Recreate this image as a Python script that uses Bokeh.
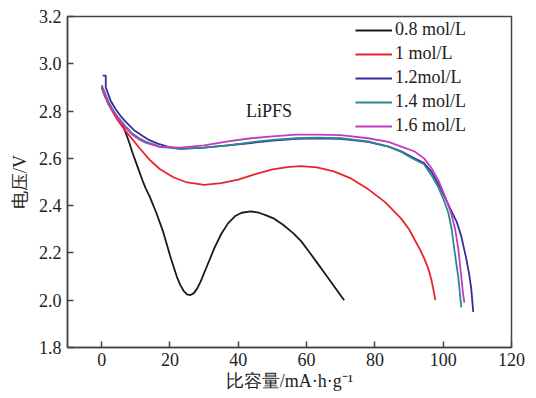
from bokeh.plotting import figure
from bokeh.models import Range1d, FixedTicker, PrintfTickFormatter, Legend, LegendItem, Label
from bokeh.embed import file_html
from bokeh.resources import INLINE

# ---- data ----
x_08 = [0, 2, 4, 6, 7, 8, 9, 10, 11, 12, 13, 14, 15, 16, 17, 18, 19, 20, 21, 22, 23, 24, 25, 26, 27, 28, 29, 31, 33, 35, 37, 39, 41, 43.7, 46, 48, 50.5, 53, 56, 58.4, 61, 63, 65, 67, 69, 71]
y_08 = [2.90, 2.83, 2.785, 2.745, 2.71, 2.67, 2.625, 2.585, 2.545, 2.505, 2.47, 2.44, 2.405, 2.37, 2.33, 2.29, 2.24, 2.19, 2.145, 2.10, 2.065, 2.04, 2.025, 2.022, 2.03, 2.05, 2.08, 2.15, 2.22, 2.28, 2.325, 2.355, 2.37, 2.376, 2.37, 2.36, 2.345, 2.32, 2.285, 2.25, 2.20, 2.16, 2.12, 2.08, 2.04, 2.00]

x_10 = [0, 1, 2, 3.5, 5, 6.5, 8.5, 11, 14, 17, 21, 25, 30, 35, 40, 45, 50, 55, 58.4, 63, 68, 73, 78, 83, 87.7, 90, 91.5, 93, 94.5, 95.6, 96.5, 97.2, 97.7]
y_10 = [2.90, 2.86, 2.83, 2.79, 2.755, 2.725, 2.69, 2.645, 2.595, 2.555, 2.52, 2.498, 2.488, 2.495, 2.51, 2.533, 2.553, 2.564, 2.567, 2.562, 2.545, 2.515, 2.47, 2.415, 2.345, 2.30, 2.26, 2.22, 2.175, 2.135, 2.09, 2.04, 2.00]

x_12 = [0.3, 1.2, 1.2, 2.6, 4, 5.5, 7, 9.4, 12, 14, 16.4, 20, 23, 30, 37, 43.7, 50, 57, 63.3, 70, 78, 84, 87.7, 91, 94.4, 96.5, 99, 101, 102.3, 104, 105.3, 106.7, 107.6, 108.2, 108.8]
y_12 = [2.95, 2.95, 2.90, 2.845, 2.81, 2.78, 2.755, 2.72, 2.695, 2.677, 2.662, 2.647, 2.64, 2.645, 2.655, 2.665, 2.675, 2.683, 2.685, 2.683, 2.67, 2.65, 2.63, 2.605, 2.58, 2.545, 2.48, 2.42, 2.38, 2.33, 2.27, 2.18, 2.11, 2.05, 1.95]

x_14 = [0, 2, 3.5, 5, 7, 9, 11, 13, 17, 23, 30, 37, 43.7, 50, 57, 63.3, 70, 78, 84, 88, 91, 94.4, 96.5, 98.5, 100, 101.5, 102.5, 103.2, 103.9, 104.4, 104.9, 105.3]
y_14 = [2.91, 2.84, 2.80, 2.77, 2.735, 2.705, 2.685, 2.67, 2.65, 2.64, 2.645, 2.655, 2.668, 2.678, 2.685, 2.688, 2.685, 2.672, 2.65, 2.625, 2.60, 2.575, 2.53, 2.48, 2.43, 2.37, 2.30, 2.22, 2.15, 2.10, 2.03, 1.97]

x_16 = [0, 2, 3.5, 5, 7, 9, 11, 13, 17, 23, 30, 37, 43.7, 50, 57, 63.3, 70, 78, 84, 87.7, 91.5, 94.4, 96.5, 98.5, 100.5, 102.3, 103.5, 104.4, 105.3, 105.8, 106.2]
y_16 = [2.90, 2.83, 2.795, 2.765, 2.73, 2.70, 2.68, 2.665, 2.648, 2.645, 2.655, 2.672, 2.685, 2.693, 2.70, 2.70, 2.698, 2.685, 2.67, 2.65, 2.63, 2.60, 2.56, 2.51, 2.44, 2.37, 2.30, 2.22, 2.10, 2.03, 1.99]

series_names = ["0.8 mol/L", "1 mol/L", "1.2mol/L", "1.4 mol/L", "1.6 mol/L"]
x_ticks = [0, 20, 40, 60, 80, 100, 120]
y_ticks = [1.8, 2.0, 2.2, 2.4, 2.6, 2.8, 3.0, 3.2]
annotation = "LiPFS"
x_label = "比容量/mA·h·g⁻¹"
y_label = "电压/V"

colors = ["#1a1a1a", "#e8242c", "#3a2a9c", "#2b8a8c", "#c23cc0"]
SERIF = "Liberation Serif"

p = figure(width=536, height=398, output_backend="svg", toolbar_location=None,
           x_range=Range1d(-10, 120), y_range=Range1d(1.8, 3.2),
           min_border_left=67, min_border_right=25, min_border_top=16, min_border_bottom=51)
p.background_fill_color = "white"
p.border_fill_color = "white"
p.xgrid.visible = False
p.ygrid.visible = False
p.outline_line_color = "#444444"
p.outline_line_width = 1.5

for ax in (p.xaxis[0], p.yaxis[0]):
    ax.axis_line_color = "#444444"
    ax.axis_line_width = 1.5
    ax.major_tick_in = 6
    ax.major_tick_out = 0
    ax.major_tick_line_color = "#444444"
    ax.major_tick_line_width = 1.5
    ax.minor_tick_line_color = None
    ax.major_label_text_font = SERIF
    ax.major_label_text_font_size = "18px"
    ax.major_label_text_color = "#222222"
    ax.axis_label_text_font = SERIF
    ax.axis_label_text_font_size = "18px"
    ax.axis_label_text_font_style = "normal"
    ax.axis_label_text_color = "#222222"

p.xaxis.ticker = FixedTicker(ticks=x_ticks)
p.yaxis.ticker = FixedTicker(ticks=y_ticks)
p.yaxis.formatter = PrintfTickFormatter(format="%.1f")
p.xaxis.axis_label = x_label
p.yaxis.axis_label = y_label
p.xaxis.major_label_standoff = 5
p.yaxis.major_label_standoff = 6
p.xaxis.axis_label_standoff = 2
p.yaxis.axis_label_standoff = 6

xs = [x_08, x_10, x_12, x_14, x_16]
ys = [y_08, y_10, y_12, y_14, y_16]
items = []
for xx, yy, c, name in zip(xs, ys, colors, series_names):
    r = p.line(xx, yy, line_color=c, line_width=1.8, line_join="round")
    items.append(LegendItem(label=name, renderers=[r]))

legend = Legend(items=items, location=(288, 211))
legend.border_line_alpha = 0
legend.background_fill_alpha = 0
legend.padding = 0
legend.margin = 0
legend.spacing = 3
legend.glyph_width = 37
legend.glyph_height = 20
legend.label_height = 20
legend.label_standoff = 3
legend.label_text_font = SERIF
legend.label_text_font_size = "18px"
legend.label_text_color = "#222222"
p.add_layout(legend)

p.add_layout(Label(x=49, y=2.80, text=annotation, text_align="center", text_baseline="middle",
                   text_font=SERIF, text_font_size="18px", text_color="#222222"))

open("out.html", "w").write(file_html(p, INLINE))
